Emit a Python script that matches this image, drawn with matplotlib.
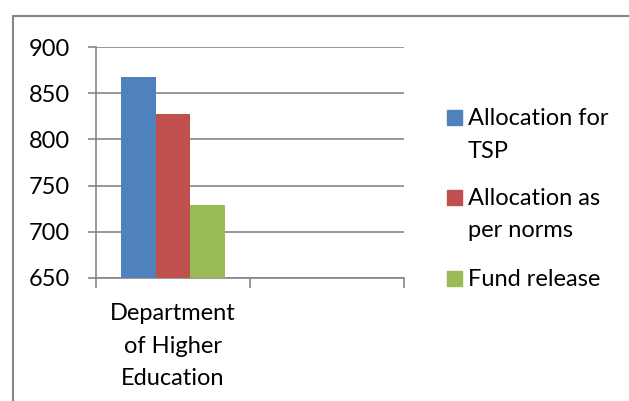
import matplotlib
matplotlib.use("Agg")
import matplotlib.pyplot as plt
from matplotlib.patches import Rectangle
import numpy as np

plt.rcParams['font.family'] = ['Lato', 'DejaVu Sans']

# data
categories = ["Department\nof Higher\nEducation", ""]
series = ["Allocation for\nTSP", "Allocation as\nper norms", "Fund release"]
values = [[868, np.nan], [827, np.nan], [729, np.nan]]
colors = ["#4F81BD", "#C0504D", "#9BBB59"]
yticks = [650, 700, 750, 800, 850, 900]

grey = "#868686"
fs = 17

fig = plt.figure(figsize=(6.29, 4.01), dpi=100)
ax = fig.add_axes([96 / 629, 1 - 278 / 401, 308 / 629, 231 / 401])

x = np.arange(len(categories))
w = 0.225
for i, (name, vals, c) in enumerate(zip(series, values, colors)):
    ax.bar(x + (i - 1) * w, vals, width=w, color=c, zorder=3)

ax.set_xlim(-0.5, 1.5)
ax.set_ylim(650, 900)
ax.set_yticks(yticks)
ax.yaxis.grid(True, color=grey, linewidth=1.2)
ax.set_axisbelow(True)

ax.set_xticks(x[:1])
ax.set_xticklabels(categories[:1], fontsize=fs, linespacing=1.68)
ax.set_xticks([-0.5, 0.5, 1.5], minor=True)
ax.tick_params(axis='x', which='major', length=0, pad=18)
ax.tick_params(axis='x', which='minor', length=7, width=1.2, color=grey)
ax.tick_params(axis='y', length=6, width=1.2, color=grey, labelsize=fs, pad=13)

for s in ["top", "right"]:
    ax.spines[s].set_visible(False)
for s in ["left", "bottom"]:
    ax.spines[s].set_color(grey)
    ax.spines[s].set_linewidth(1.2)

# legend drawn by hand so the marker sits on the first line
W, H = 629, 401
baselines = [[125, 158], [205, 237], [286]]
for name, c, ybs in zip(series, colors, baselines):
    fig.patches.append(Rectangle((447 / W, 1 - ybs[0] / H), 15 / W, 15 / H,
                                 transform=fig.transFigure, color=c))
    for line, yb in zip(name.split("\n"), ybs):
        fig.text(468 / W, 1 - yb / H, line, fontsize=fs, va='baseline', ha='left')

# chart border
fig.patches.append(Rectangle((13 / W, -0.1), 1.2, 1 - 16 / H + 0.1,
                             transform=fig.transFigure, fill=False,
                             edgecolor=grey, linewidth=1.5))

fig.savefig("out.png", dpi=100)
